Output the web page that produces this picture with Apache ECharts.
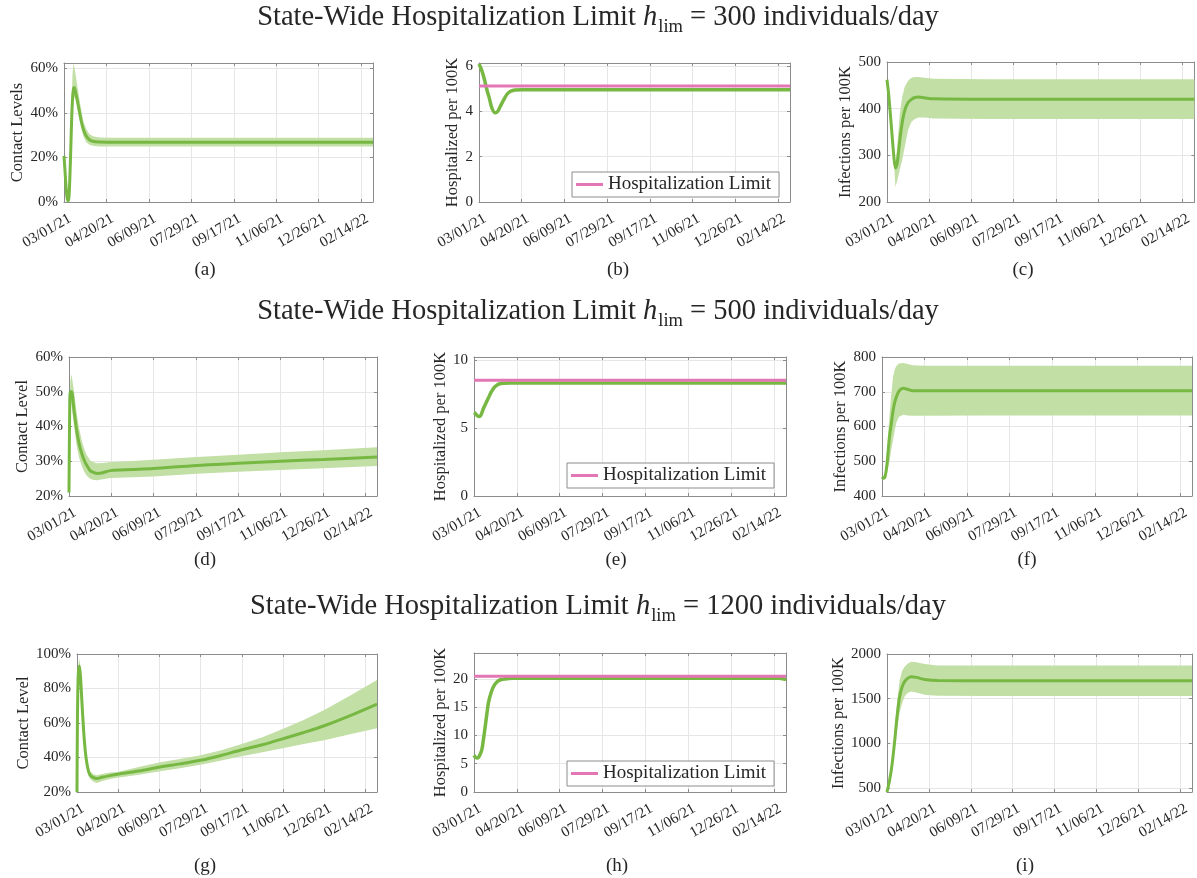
<!DOCTYPE html>
<html><head><meta charset="utf-8">
<script src="https://cdn.jsdelivr.net/npm/echarts@6/dist/echarts.min.js"></script>
<style>html,body{margin:0;padding:0;background:#fff}#c{width:1197px;height:878px}</style>
</head><body><div id="c"></div>
<script>
// ---------------- DATA ----------------
const xTickLabels = ['03/01/21','04/20/21','06/09/21','07/29/21','09/17/21','11/06/21','12/26/21','02/14/22'];
const hLimValues = [300, 500, 1200];
const hospLimits = [5.12, 8.53, 20.48];
const panelLetters = ['(a)','(b)','(c)','(d)','(e)','(f)','(g)','(h)','(i)'];

// (a) contact level, h_lim = 300
const contact300Days  = [0,1,2,3,4,5,6,7,8,9,10,11,12,13,15,17,20,23,26,30,35,42,60,120,200,280,364];
const contact300Mean  = [20.7,15,9,4,1.2,0.5,3,12,24,37,46,50.5,51.5,50.5,47,43,37,32.5,29.8,28,27.2,27,26.9,26.9,26.9,26.9,26.9];
const contact300Upper = [20.7,15,9,4,1.4,0.8,4,14,28,45,57,62,61,59,54,49,42,36,33,30.5,29.5,29,28.9,28.9,28.9,28.9,28.9];
const contact300Lower = [20.7,15,9,4,1.0,0.2,2,10,20,30,40,45,47,47,44,39.5,33.5,29.5,27,25.7,25.2,25,24.9,24.9,24.9,24.9,24.9];
// (b) hospitalized, h_lim = 300
const hosp300Days = [0,3,6,8,10,12,15,19,22,25,29,33,37,42,50,120,200,280,364];
const hosp300Mean = [6.1,5.84,5.47,5.15,4.85,4.6,4.16,3.94,4.01,4.23,4.52,4.77,4.89,4.95,4.96,4.96,4.96,4.96,4.96];
// (c) infections, h_lim = 300
const inf300Days  = [0,2,5,8,10,12,15,18,21,25,29,33,37,45,55,120,200,280,364];
const inf300Mean  = [462,430,366,300,273,282,330,370,396,413,420,424,425,423,421,420,420,420,420];
const inf300Upper = [462,432,370,305,285,315,387,425,447,460,466,468,468,466,464,463,463,463,463];
const inf300Lower = [462,428,362,292,232,245,268,290,318,355,372,378,381,381,379,378,378,378,378];
// (d) contact level, h_lim = 500
const contact500Days  = [0,0.8,1.5,3,6,9,12,15,18,21,25,29,33,40,49,75,100,151,200,250,300,364];
const contact500Mean  = [21,45,50,50,44.5,39,35,32.3,30.3,28.8,27.3,26.8,26.5,26.7,27.3,27.6,27.9,28.8,29.4,30,30.5,31.2];
const contact500Upper = [21,46,53,55,50,44,39.5,36,33.5,31.8,30.3,29.7,29.4,29.5,29.8,30.1,30.4,31.2,31.9,32.6,33.2,34.0];
const contact500Lower = [21,44,47.5,46,40,34.5,31,28.7,27,25.8,25,24.6,24.5,24.8,25.2,25.4,25.6,26.4,27,27.5,28,28.6];
// (e) hospitalized, h_lim = 500
const hosp500Days = [0,2,4,6,8,11,14,17,20,23,26,30,35,42,55,120,200,280,364];
const hosp500Mean = [6.15,6.05,5.9,5.85,5.95,6.45,6.85,7.25,7.65,7.95,8.13,8.27,8.31,8.33,8.33,8.32,8.32,8.32,8.32];
// (f) infections, h_lim = 500
const inf500Days  = [0,2,4,6,9,11,13,15,17,20,25,30,36,50,120,200,280,364];
const inf500Mean  = [455,451,460,495,575,609,645,670,686,702,710,707,703,703,703,703,703,703];
const inf500Upper = [455,452,470,540,638,695,744,765,775,781,783,780,776,775,775,775,775,775];
const inf500Lower = [455,450,452,470,500,535,561,590,612,628,634,632,631,631,632,632,632,632];
// (g) contact level, h_lim = 1200
const contact1200Days  = [0,0.5,1.5,3,4.5,6,8,10,12,14,16,20,24,30,40,49,75,101,125,150,175,198,225,251,275,300,330,364];
const contact1200Mean  = [20,60,88,93,85,72,56,44,36.5,32,29.7,28.3,27.8,28.5,29.5,30.3,32.2,34.5,36.3,38.4,41.2,44.2,47.4,51,54.5,58.4,64,71];
const contact1200Upper = [20,62,93,97.5,90,77,61,48,40,35,32,30.3,29.7,30.5,31.3,31.6,34.5,37.2,39.2,41.3,44.2,47.5,51.8,56.8,61.8,67.5,75.5,85];
const contact1200Lower = [20,58,84,89,80,67,51,40,33.5,29.5,27.5,26,25.2,26.2,27.6,28.2,30,32,33.8,35.8,38.2,40.6,43,45.5,47.8,50,53.3,57];
// (h) hospitalized, h_lim = 1200
const hosp1200Days = [0,2,4,6,9,11,13,15,17,20,23,27,31,36,45,120,200,280,355,364];
const hosp1200Mean = [6.5,6.1,6.0,6.3,7.4,9.3,11.5,13.8,15.9,17.6,18.7,19.5,19.85,20.0,20.1,20.1,20.1,20.1,20.1,19.9];
// (i) infections, h_lim = 1200
const inf1200Days  = [0,3,6,9,12,15,18,21,25,29,35,45,60,120,200,280,364];
const inf1200Mean  = [455,580,760,1010,1300,1520,1630,1690,1730,1745,1738,1715,1702,1700,1700,1700,1700];
const inf1200Upper = [455,590,800,1100,1450,1700,1810,1858,1895,1912,1908,1888,1872,1870,1870,1870,1870];
const inf1200Lower = [455,570,720,920,1150,1340,1450,1524,1565,1580,1570,1545,1532,1530,1530,1530,1530];

// ---------------- STYLE / LAYOUT ----------------
const DAY_MAX = 364;
const FONT = '"Liberation Serif", "Times New Roman", serif';
const GREEN = '#77b843', BAND = '#c2dfa6', PINK = '#e377b5', AXIS = '#8c8c8c', GRIDC = '#e6e6e6', TXT = '#262626';

const panels = [
  {left:64,  top:63,  width:309, height:139, ymin:0,   ymax:62.5,  yint:20,  suffix:'%', name:'Contact Levels', nameGap:33, days:contact300Days, mean:contact300Mean, upper:contact300Upper, lower:contact300Lower, lx:205, ly:270},
  {left:479, top:63,  width:311, height:139, ymin:0,   ymax:6.14,  yint:2,   suffix:'',  name:'Hospitalized per 100K', nameGap:18, days:hosp300Days, mean:hosp300Mean, limit:hospLimits[0], legend:[572,172], lx:618, ly:270},
  {left:887, top:62,  width:312, height:140, ymin:200, ymax:500,   yint:100, suffix:'',  name:'Infections per 100K', nameGap:32, days:inf300Days, mean:inf300Mean, upper:inf300Upper, lower:inf300Lower, lx:1023, ly:270},
  {left:69,  top:357, width:308, height:139, ymin:20,  ymax:60,    yint:10,  suffix:'%', name:'Contact Level', nameGap:36, days:contact500Days, mean:contact500Mean, upper:contact500Upper, lower:contact500Lower, lx:205, ly:560},
  {left:474, top:357, width:312, height:139, ymin:0,   ymax:10.24, yint:5,   suffix:'',  name:'Hospitalized per 100K', nameGap:24, days:hosp500Days, mean:hosp500Mean, limit:hospLimits[1], legend:[567,463], lx:616, ly:560},
  {left:882, top:357, width:310, height:139, ymin:400, ymax:800,   yint:100, suffix:'',  name:'Infections per 100K', nameGap:33, days:inf500Days, mean:inf500Mean, upper:inf500Upper, lower:inf500Lower, lx:1027, ly:560},
  {left:77,  top:654, width:300, height:138, ymin:20,  ymax:100,   yint:20,  suffix:'%', name:'Contact Level', nameGap:42, days:contact1200Days, mean:contact1200Mean, upper:contact1200Upper, lower:contact1200Lower, lx:205, ly:866},
  {left:474, top:653, width:312, height:139, ymin:0,   ymax:24.58, yint:5,   suffix:'',  name:'Hospitalized per 100K', nameGap:24, days:hosp1200Days, mean:hosp1200Mean, limit:hospLimits[2], legend:[567,761], lx:617, ly:866},
  {left:887, top:654, width:305, height:138, ymin:455, ymax:2000,  yint:500, splitNumber:3, suffix:'', name:'Infections per 100K', nameGap:39, days:inf1200Days, mean:inf1200Mean, upper:inf1200Upper, lower:inf1200Lower, lx:1025, ly:866}
];

function isMult(v, step) { const k = v / step; return Math.abs(k - Math.round(k)) < 1e-6; }

const grids = [], xAxes = [], yAxes = [], series = [], legends = [], graphics = [];

panels.forEach((p, i) => {
  grids.push({left:p.left, top:p.top, width:p.width, height:p.height, show:false});
  const xBase = {gridIndex:i, type:'value', min:0, max:DAY_MAX, interval:50,
    axisLine:{show:true, onZero:false, lineStyle:{color:AXIS, width:1}},
    axisTick:{show:true, inside:true, length:3, lineStyle:{color:AXIS}}};
  xAxes.push(Object.assign({}, xBase, {position:'bottom',
    axisLabel:{show:true, rotate:30, margin:19, fontSize:15, fontFamily:FONT, color:TXT, padding:[0,-7,0,0],
      formatter: v => isMult(v, 50) ? (xTickLabels[Math.round(v/50)] || '') : ''},
    splitLine:{show:true, lineStyle:{color:GRIDC, width:1}}}));
  xAxes.push(Object.assign({}, xBase, {position:'top', axisLabel:{show:false}, splitLine:{show:false}}));

  const yBase = {gridIndex:i, type:'value', min:p.ymin, max:p.ymax,
    axisLine:{show:true, onZero:false, lineStyle:{color:AXIS, width:1}},
    axisTick:{show:true, inside:true, length:3, lineStyle:{color:AXIS}}};
  if (p.splitNumber) yBase.splitNumber = p.splitNumber; else yBase.interval = p.yint;
  yAxes.push(Object.assign({}, yBase, {position:'left', name:p.name, nameLocation:'middle', nameGap:p.nameGap,
    nameTextStyle:{fontFamily:FONT, fontSize:16.5, color:TXT},
    axisLabel:{margin:6, fontSize:15, fontFamily:FONT, color:TXT,
      formatter: v => isMult(v, p.yint) ? (Math.round(v) + p.suffix) : ''},
    splitLine:{show:true, lineStyle:{color:GRIDC, width:1}}}));
  yAxes.push(Object.assign({}, yBase, {position:'right', axisLabel:{show:false}, splitLine:{show:false}}));

  const xi = 2*i, yi = 2*i;
  if (p.upper) {
    series.push({type:'custom', xAxisIndex:xi, yAxisIndex:yi, clip:true, silent:true, z:1,
      data:[[0]],
      renderItem:(params, api) => {
        const up = p.days.map((d,k) => api.coord([d, p.upper[k]]));
        const lo = p.days.map((d,k) => api.coord([d, p.lower[k]])).reverse();
        lo.pop();
        return {type:'polygon', shape:{points:up.concat(lo)}, style:{fill:BAND}};
      }});
  }
  series.push({type:'line', name:'Mean', xAxisIndex:xi, yAxisIndex:yi, symbol:'none', smooth:0.3, z:3,
    lineStyle:{color:GREEN, width:p.limit!=null?3.5:3}, itemStyle:{color:GREEN},
    data:p.days.map((d,k)=>[d, p.mean[k]])});
  if (p.limit != null) {
    series.push({type:'line', name:'Hospitalization Limit', xAxisIndex:xi, yAxisIndex:yi, symbol:'none', z:4,
      lineStyle:{color:PINK, width:3}, itemStyle:{color:PINK},
      data:[[0, p.limit], [DAY_MAX, p.limit]]});
    legends.push({left:p.legend[0], top:p.legend[1], orient:'horizontal', data:['Hospitalization Limit'],
      icon:'rect', itemWidth:27, itemHeight:3, itemGap:5, selectedMode:false,
      padding:[3,8,3,4], borderColor:'#8c8c8c', borderWidth:1, backgroundColor:'#fff',
      textStyle:{fontFamily:FONT, fontSize:19, color:TXT}});
  }
  graphics.push({type:'text', x:p.lx, y:p.ly, style:{text:panelLetters[i], fontFamily:FONT, fontSize:19, fill:TXT, align:'center', verticalAlign:'middle'}});
});

const rowTitleY = [18, 312, 607];
hLimValues.forEach((v, r) => {
  graphics.push({type:'text', x:598, y:rowTitleY[r], style:{
    text:'{n|State-Wide Hospitalization Limit }{i|h}{s|lim}{n| = ' + v + ' individuals/day}',
    align:'center', verticalAlign:'middle',
    rich:{
      n:{fontFamily:FONT, fontSize:28.5, fill:TXT},
      i:{fontFamily:FONT, fontSize:28.5, fontStyle:'italic', fill:TXT},
      s:{fontFamily:FONT, fontSize:18.5, fill:TXT, verticalAlign:'top', lineHeight:18.5, padding:[14,0,0,1]}
    }}});
});

const chart = echarts.init(document.getElementById('c'), null, {renderer:'canvas', width:1197, height:878});
chart.setOption({
  animation:false,
  backgroundColor:'#fff',
  grid:grids, xAxis:xAxes, yAxis:yAxes, series:series, legend:legends, graphic:graphics
});
</script>
</body></html>
